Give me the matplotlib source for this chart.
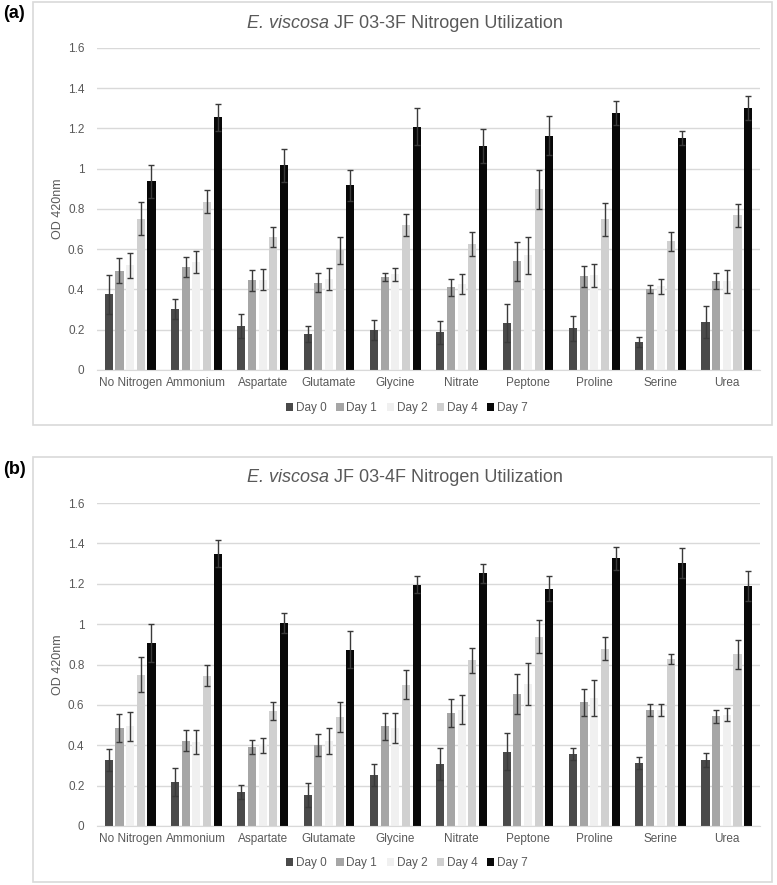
import matplotlib
matplotlib.use('Agg')
import matplotlib.pyplot as plt
import numpy as np
from matplotlib.patches import Rectangle

plt.rcParams['font.family'] = ['Liberation Sans', 'DejaVu Sans']

categories = ['No Nitrogen', 'Ammonium', 'Aspartate', 'Glutamate', 'Glycine',
              'Nitrate', 'Peptone', 'Proline', 'Serine', 'Urea']
days = ['Day 0', 'Day 1', 'Day 2', 'Day 4', 'Day 7']
colors = ['#4a4a4a', '#a6a6a6', '#f0f0f0', '#d0d0d0', '#080808']

# (a) JF 03-3F
a_day0 = [0.377, 0.302, 0.217, 0.177, 0.200, 0.187, 0.233, 0.207, 0.138, 0.237]
a_day1 = [0.494, 0.510, 0.447, 0.434, 0.460, 0.410, 0.540, 0.465, 0.402, 0.443]
a_day2 = [0.520, 0.535, 0.449, 0.452, 0.475, 0.428, 0.570, 0.470, 0.416, 0.440]
a_day4 = [0.752, 0.837, 0.662, 0.594, 0.720, 0.625, 0.897, 0.748, 0.640, 0.768]
a_day7 = [0.937, 1.255, 1.018, 0.918, 1.208, 1.113, 1.165, 1.277, 1.155, 1.303]
a_err0 = [0.097, 0.051, 0.059, 0.040, 0.050, 0.056, 0.094, 0.061, 0.025, 0.080]
a_err1 = [0.062, 0.050, 0.052, 0.047, 0.020, 0.043, 0.097, 0.052, 0.018, 0.040]
a_err2 = [0.062, 0.055, 0.051, 0.053, 0.032, 0.049, 0.092, 0.058, 0.036, 0.058]
a_err4 = [0.082, 0.057, 0.050, 0.065, 0.056, 0.060, 0.098, 0.082, 0.047, 0.059]
a_err7 = [0.081, 0.068, 0.082, 0.077, 0.092, 0.085, 0.095, 0.060, 0.035, 0.059]

# (b) JF 03-4F
b_day0 = [0.326, 0.218, 0.170, 0.155, 0.253, 0.307, 0.369, 0.357, 0.312, 0.327]
b_day1 = [0.486, 0.423, 0.392, 0.402, 0.494, 0.560, 0.653, 0.612, 0.575, 0.544]
b_day2 = [0.495, 0.418, 0.400, 0.420, 0.485, 0.577, 0.703, 0.635, 0.575, 0.551]
b_day4 = [0.750, 0.745, 0.569, 0.540, 0.700, 0.820, 0.937, 0.879, 0.828, 0.850]
b_day7 = [0.907, 1.349, 1.007, 0.873, 1.195, 1.253, 1.175, 1.326, 1.302, 1.190]
b_err0 = [0.056, 0.070, 0.035, 0.060, 0.053, 0.081, 0.091, 0.030, 0.028, 0.033]
b_err1 = [0.069, 0.051, 0.034, 0.054, 0.066, 0.070, 0.099, 0.069, 0.030, 0.033]
b_err2 = [0.072, 0.060, 0.036, 0.064, 0.075, 0.073, 0.104, 0.090, 0.030, 0.032]
b_err4 = [0.086, 0.052, 0.043, 0.073, 0.072, 0.063, 0.081, 0.058, 0.025, 0.072]
b_err7 = [0.093, 0.066, 0.049, 0.091, 0.041, 0.047, 0.061, 0.057, 0.073, 0.073]

panels = [
    ('(a)', 'JF 03-3F Nitrogen Utilization',
     [a_day0, a_day1, a_day2, a_day4, a_day7],
     [a_err0, a_err1, a_err2, a_err4, a_err7]),
    ('(b)', 'JF 03-4F Nitrogen Utilization',
     [b_day0, b_day1, b_day2, b_day4, b_day7],
     [b_err0, b_err1, b_err2, b_err4, b_err7]),
]

W, H = 777, 885
fig = plt.figure(figsize=(W / 100, H / 100), dpi=100)
renderer = fig.canvas.get_renderer()

# pixel layout for each panel: box top/bottom, axes top/bottom
layout = [
    dict(box=(2, 425), ax=(48, 370), title=23, lab=13, leg=408),
    dict(box=(457, 882), ax=(503, 826), title=478, lab=469, leg=863),
]

grey_text = '#595959'
x = np.arange(len(categories))
step = 0.161
width = 0.122

for (lab, title, vals, errs), lay in zip(panels, layout):
    b0, b1 = lay['box']
    fig.patches.append(Rectangle((33 / W, 1 - b1 / H), (772 - 33) / W, (b1 - b0) / H,
                                 transform=fig.transFigure, fill=False,
                                 edgecolor='#d9d9d9', linewidth=1.2))
    t, b = lay['ax']
    ax = fig.add_axes([97 / W, 1 - b / H, 663 / W, (b - t) / H])
    for i, (v, e) in enumerate(zip(vals, errs)):
        ax.bar(x + (i - 2) * step, v, width, color=colors[i], label=days[i], zorder=2,
               yerr=e, error_kw=dict(ecolor='#3a3a3a', elinewidth=1, capsize=2.5,
                                     capthick=1, zorder=3))
    ax.set_xlim(-0.5, len(categories) - 0.5)
    ax.set_ylim(0, 1.6)
    ax.set_yticks(np.arange(0, 1.61, 0.2))
    ax.set_yticklabels(['0', '0.2', '0.4', '0.6', '0.8', '1', '1.2', '1.4', '1.6'])
    ax.set_xticks(x)
    ax.set_xticklabels(categories)
    ax.tick_params(length=0, labelsize=8.5, labelcolor=grey_text, pad=5)
    ax.tick_params(axis='y', pad=9)
    ax.grid(axis='y', color='#d9d9d9', linewidth=1, zorder=0)
    ax.set_axisbelow(True)
    for s in ['top', 'right', 'left']:
        ax.spines[s].set_visible(False)
    ax.spines['bottom'].set_color('#d9d9d9')
    ax.set_ylabel('OD 420nm', fontsize=9, color=grey_text)
    ax.yaxis.set_label_coords(-0.05, 0.5)

    # title: italic species name followed by upright text, centred as a whole
    ty = 1 - lay['title'] / H
    t1 = fig.text(0, ty, 'E. viscosa ', fontsize=13, style='italic', color=grey_text,
                  ha='left', va='center')
    t2 = fig.text(0, ty, title, fontsize=13, color=grey_text, ha='left', va='center')
    w1 = t1.get_window_extent(renderer).width
    w2 = t2.get_window_extent(renderer).width
    x0 = 405 - (w1 + w2) / 2
    t1.set_x(x0 / W)
    t2.set_x((x0 + w1) / W)

    fig.text(3 / W, 1 - lay['lab'] / H, lab, ha='left', va='center',
             fontsize=13, fontweight='bold', color='black')
    handles, labels = ax.get_legend_handles_labels()
    fig.legend(handles, labels, loc='center', bbox_to_anchor=(407 / W, 1 - lay['leg'] / H),
               ncol=5, frameon=False, fontsize=8.5, handlelength=0.6, handleheight=0.6,
               handletextpad=0.25, columnspacing=0.8, labelcolor=grey_text)

fig.savefig('out.png', dpi=100)
